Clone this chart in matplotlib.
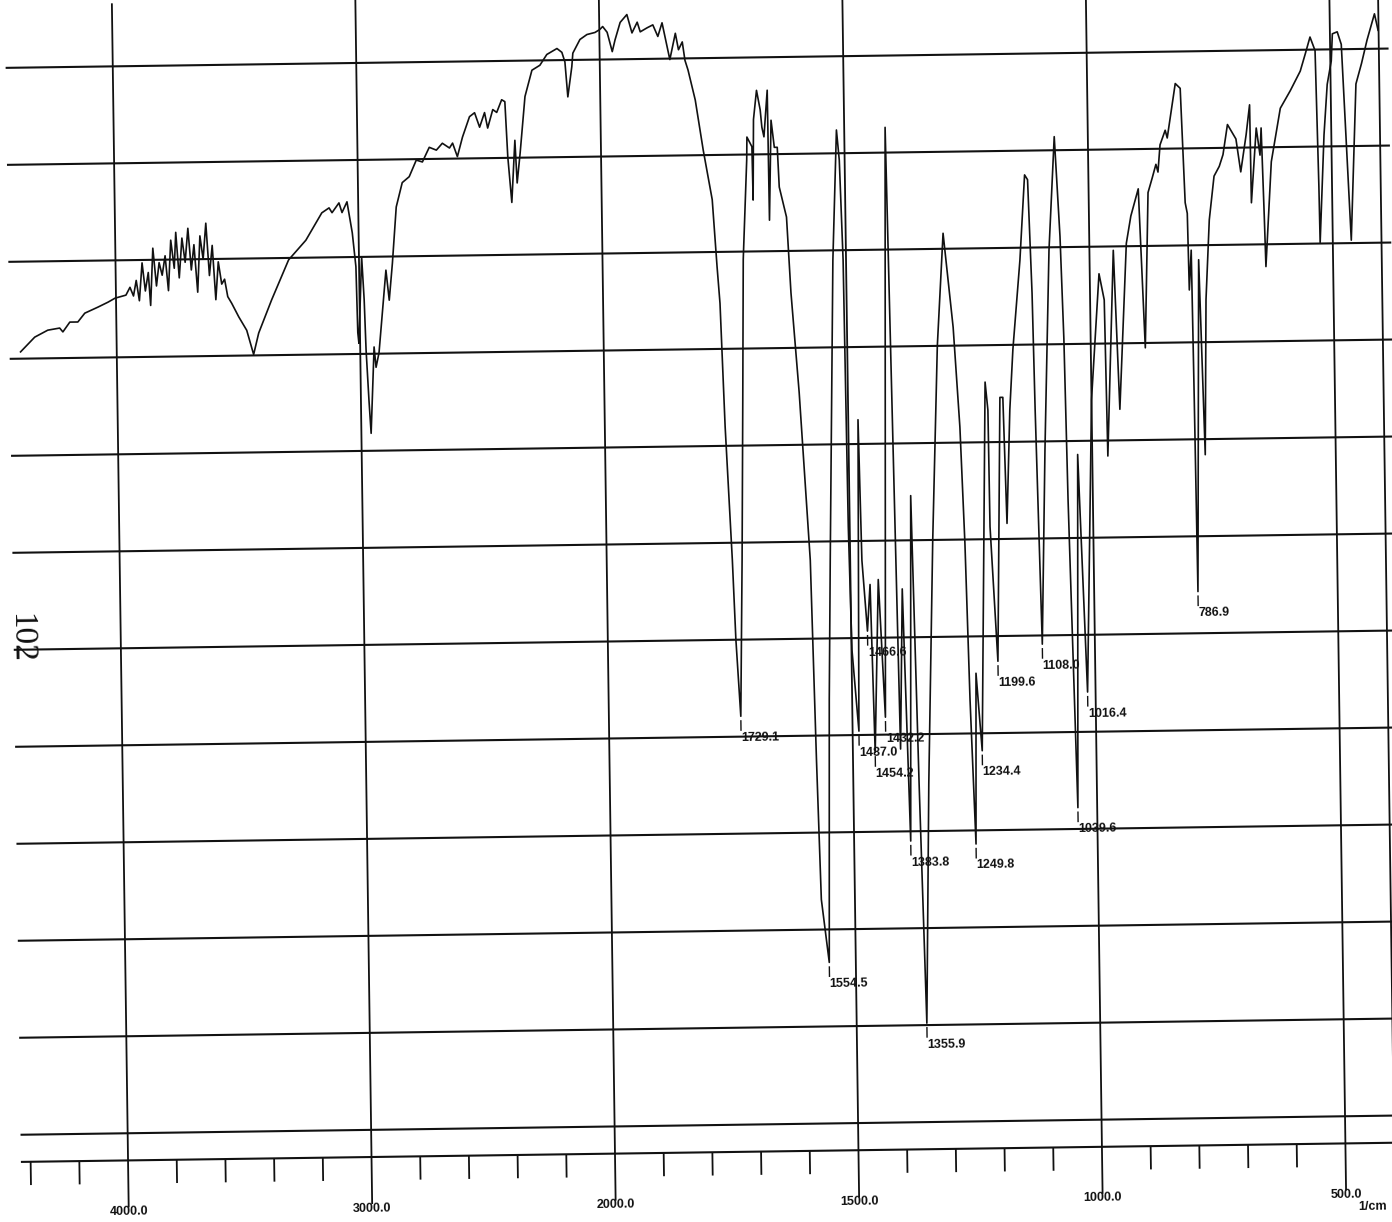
import numpy as np
import matplotlib
matplotlib.use("Agg")
import matplotlib.pyplot as plt
from matplotlib.transforms import Affine2D

# IR transmission trace (wavenumber in 1/cm, transmittance in %)
wavenumber = [
    4395, 4336, 4282, 4233, 4220, 4191, 4158, 4129, 4075, 4033, 4004, 3959, 3942,
    3928, 3916, 3904, 3891, 3879, 3866, 3858, 3846, 3833, 3821, 3809, 3796, 3784,
    3772, 3759, 3751, 3739, 3726, 3714, 3701, 3689, 3677, 3664, 3652, 3640, 3627,
    3615, 3602, 3590, 3578, 3565, 3553, 3541,
    3525, 3497, 3465, 3438, 3416, 3361, 3289, 3217, 3150, 3120, 3108, 3079, 3067,
    3046, 3026, 3013, 3009, 3005, 2989, 2981, 2976, 2967, 2960, 2943, 2936, 2923,
    2890, 2878, 2863, 2844, 2818, 2789, 2759, 2734, 2705, 2676, 2651, 2622, 2609,
    2590, 2568, 2538, 2517, 2497, 2476, 2464, 2442, 2426, 2405, 2392, 2383, 2369,
    2353, 2346, 2332, 2309, 2279, 2246, 2217, 2175, 2155, 2143, 2133, 2115, 2110,
    2080, 2051, 2018, 1999, 1993, 1984, 1974, 1968, 1957, 1943, 1933, 1922, 1916,
    1902, 1890, 1880, 1871, 1861, 1856, 1844, 1838, 1830, 1825, 1819, 1805, 1790,
    1773, 1765, 1760, 1753, 1742, 1737, 1729.1, 1722, 1716, 1711, 1701, 1700, 1690,
    1689, 1686, 1679, 1672, 1669, 1665, 1657, 1656, 1650, 1644, 1638, 1635, 1621,
    1614, 1600, 1582, 1575, 1569, 1554.5, 1547, 1541, 1527, 1516, 1511, 1506, 1503,
    1499, 1487.0, 1480, 1476, 1466.6, 1460, 1454.2, 1443, 1432.2, 1416, 1402,
    1394, 1383.8, 1374, 1365, 1355.9, 1345, 1330, 1315,
    1300, 1282, 1271, 1264, 1258, 1249.8, 1245, 1234.4, 1218, 1213, 1212, 1199.6,
    1188, 1182, 1177, 1168, 1160, 1143, 1131, 1125, 1119, 1116, 1108.0, 1097, 1083,
    1069, 1060, 1055, 1051, 1039.6, 1030, 1016.4, 1000, 981, 971, 968, 951, 942,
    924, 914, 898, 888, 878, 869, 861, 857, 852, 841, 837, 819, 809, 802, 798, 796,
    791, 789, 786.9, 776, 768, 762, 753, 742, 731, 723, 713, 696, 687, 675, 667,
    666, 654, 647, 644, 640, 638, 624, 604, 583, 562, 551, 541, 531, 527, 526, 515,
    507, 498, 495, 485, 477, 470, 462, 448, 436, 424, 408, 401,
]
transmittance = [
    70.7, 72.2, 72.9, 73.1, 72.7, 73.7, 73.7, 74.6, 75.2, 75.7, 76.1, 76.4, 77.2,
    76.3, 77.9, 75.8, 79.7, 76.8, 78.7, 75.3, 81.2, 77.3, 79.7, 78.4, 80.4, 76.8,
    82.0, 79.1, 82.8, 78.1, 82.2, 79.7, 83.2, 78.9, 81.5, 76.6, 82.4, 80.0, 83.7,
    78.3, 81.4, 75.8, 79.7, 77.4, 77.9, 76.1,
    75.4, 74.0, 72.6, 70.1, 72.3, 75.7, 79.8, 81.8, 84.6, 85.1, 84.6, 85.6, 84.6,
    85.7, 82.5, 79.0, 72.2, 71.1, 80.0, 75.6, 70.4, 65.2, 61.8, 70.7, 68.6, 70.1,
    78.6, 75.5, 79.3, 85.1, 87.6, 88.2, 89.9, 89.7, 91.2, 90.9, 91.6, 91.1, 91.6,
    90.2, 92.2, 94.3, 94.7, 93.2, 94.7, 93.1, 95.0, 94.7, 96.0, 95.8, 90.1, 85.4,
    91.8, 87.4, 90.5, 96.3, 99.0, 99.5, 100.6, 101.2, 100.8, 99.8, 96.2, 99.3, 100.7,
    102.1, 102.6, 102.8, 103.1, 103.4, 102.8, 100.8, 102.0, 103.8, 104.6, 102.7, 103.8, 102.8,
    103.2, 103.5, 102.3, 103.7, 101.2, 99.9, 102.6, 100.9, 101.7, 99.8, 98.8, 95.7, 90.5,
    85.4, 78.5, 74.7, 62.0, 48.2, 40.0, 32.1, 48.2, 64.7, 79.2, 89.5, 91.8, 90.8,
    85.3, 93.6, 96.6, 94.6, 92.8, 91.8, 96.6, 83.2, 93.5, 90.7, 90.7, 86.6, 83.5,
    75.7, 65.4, 48.1, 27.5, 13.1, 6.6, 33.7, 48.1, 79.0, 92.4, 89.3, 79.0, 51.5,
    38.8, 30.4, 62.5, 48.0, 40.7, 45.5, 28.2, 46.0, 31.8, 92.6, 28.5,
    45.0, 19.0, 54.6, 25.0, 0.2, 25.0, 50.0, 70.0,
    81.6, 71.9, 61.6, 49.6, 33.5, 18.6, 36.2, 28.2, 66.2, 63.3, 51.3, 37.4,
    64.6, 64.6, 51.6, 63.3, 69.5, 78.7, 87.5, 87.0, 75.3, 63.3, 39.1, 59.1, 79.7,
    91.4, 81.1, 70.6, 54.0, 22.2, 58.6, 34.1, 64.2, 77.2, 74.5, 58.4, 79.6, 63.2,
    80.3, 83.1, 85.9, 69.5, 85.5, 87.0, 88.4, 87.6, 90.4, 91.9, 91.1, 96.7, 96.2, 84.4, 83.3, 75.4,
    79.5, 64.1, 44.3, 78.5, 58.4, 74.4, 82.6, 87.1, 88.1, 89.3, 92.4, 90.9, 87.5, 91.3, 94.4,
    84.3, 92.0, 89.2, 92.0, 82.9, 77.7, 88.5, 94.0, 95.8, 97.8, 99.6, 101.3, 99.9, 85.9, 80.1, 91.2,
    96.4, 98.8, 101.6, 101.8, 100.5, 91.2, 80.3, 96.4, 98.5, 100.9, 103.6, 101.9,
]

# Labelled band minima
peak_wavenumber = [1729.1, 1554.5, 1487.0, 1466.6, 1454.2, 1432.2, 1383.8, 1355.9,
                   1249.8, 1234.4, 1199.6, 1108.0, 1039.6, 1016.4, 786.9]
peak_transmittance = [32.1, 6.6, 30.4, 40.7, 28.2, 31.8, 19.0, 0.2,
                      18.6, 28.2, 37.4, 39.1, 22.2, 34.1, 44.3]

major_ticks = [4000, 3000, 2000, 1500, 1000, 500]
minor_ticks = [4400, 4200, 3800, 3600, 3400, 3200, 2800, 2600, 2400, 2200,
               1900, 1800, 1700, 1600, 1400, 1300, 1200, 1100, 900, 800, 700, 600]
grid_levels = [100, 90, 80, 70, 60, 50, 40, 30, 20, 10, 0, -10]
axis_level = -12.8
frame_right = 400
sample_id = "102"


# Wavenumber axis: the region below 2000 1/cm is expanded two-fold
def forward(w):
    w = np.asarray(w, dtype=float)
    return np.where(w >= 2000, (w - 2000) / 2.0, w - 2000)


def inverse(u):
    u = np.asarray(u, dtype=float)
    return np.where(u >= 0, 2000 + 2.0 * u, 2000 + u)


fig = plt.figure(figsize=(13.92, 12.22), dpi=100)
ax = fig.add_axes([0, 0, 1, 1])
ax.set_xscale("function", functions=(forward, inverse))
ax.set_xlim(4525.7, 404.5)
ax.set_ylim(-19.85, 106.13)
ax.set_autoscale_on(False)
ax.axis("off")

# The chart paper sits slightly skewed on the page
tilt = 0.8
skew = Affine2D().rotate_deg_around(615, 67, tilt)
tr = ax.transData + skew

label_font = ["Liberation Sans", "DejaVu Sans"]
ink = "#111111"

# chart paper grid
ax.hlines(grid_levels, 4440, 380, colors=ink, lw=1.5, transform=tr)
ax.hlines([axis_level], 4440, 380, colors=ink, lw=1.5, transform=tr)
ax.vlines(major_ticks, axis_level - 4.85, 106.5, colors=ink, lw=1.3, transform=tr)
ax.vlines([frame_right], axis_level, 106.5, colors=ink, lw=1.3, transform=tr)
ax.vlines(minor_ticks, axis_level - 2.4, axis_level, colors=ink, lw=1.3, transform=tr)

for w in major_ticks:
    ax.text(w, -18.1, f"{w:.1f}", ha="center", va="center", fontsize=9,
            family=label_font, weight="bold", color=ink,
            rotation=tilt, rotation_mode="anchor", transform=tr)
ax.text(476, -19.4, "1/cm", ha="left", va="center", fontsize=9,
        family=label_font, weight="bold", color=ink,
        rotation=tilt, rotation_mode="anchor", transform=tr)

# spectrum
ax.plot(wavenumber, transmittance, color=ink, lw=1.2, transform=tr)

# band markers and labels
for w, t in zip(peak_wavenumber, peak_transmittance):
    ax.vlines([w], t - 1.5, t - 0.4, colors=ink, lw=1.0, transform=tr)
    ax.text(w, t - 1.6, f"{w:.1f}", ha="left", va="top", fontsize=9,
            family=label_font, weight="bold", color=ink,
            rotation=tilt, rotation_mode="anchor", transform=tr)

ax.text(4411, 41.2, sample_id, ha="center", va="center", fontsize=24,
        family=["Liberation Serif", "DejaVu Serif"], color=ink,
        rotation=-90 + tilt, rotation_mode="anchor", transform=tr)

fig.savefig("out.png", dpi=100, facecolor="white")
